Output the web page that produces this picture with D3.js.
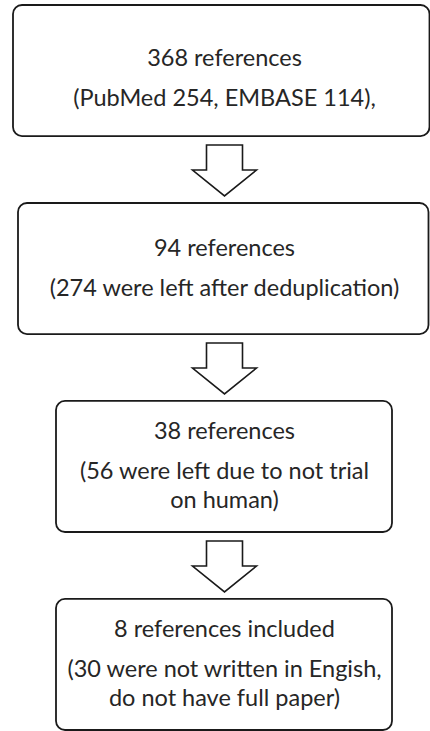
<!DOCTYPE html>
<html>
<head>
<meta charset="utf-8">
<script src="https://cdn.jsdelivr.net/npm/d3@7"></script>
<style>
  html, body { margin: 0; padding: 0; background: #fff; }
</style>
</head>
<body>
<div id="canvas"></div>
<script>
const steps = ["search", "dedup", "human", "included"];
const headlines = ["368 references", "94 references", "38 references", "8 references included"];
const details = [
  ["(PubMed 254, EMBASE 114),"],
  ["(274 were left after deduplication)"],
  ["(56 were left due to not trial", "on human)"],
  ["(30 were not written in Engish,", "do not have full paper)"]
];

const width = 430;
const height = 731;
const cx = 224.5;

// box extents per step (left, right)
const boxX = [[13, 429.5], [18, 428.5], [56, 392], [56, 392]];
const textShift = [8, 0, 0, 0];

const svg = d3.select("#canvas").append("svg")
  .attr("width", width)
  .attr("height", height);

const yScale = d3.scaleBand()
  .domain(steps)
  .range([5, 730])
  .paddingInner(0.338);

const fontSize = 23.5;
const lineGap = 40;
const wrapGap = 28.5;

const g = svg.selectAll("g.step")
  .data(steps)
  .enter()
  .append("g")
  .attr("class", "step");

g.append("rect")
  .attr("x", (d, i) => boxX[i][0])
  .attr("y", (d) => yScale(d))
  .attr("width", (d, i) => boxX[i][1] - boxX[i][0])
  .attr("height", yScale.bandwidth())
  .attr("rx", 9)
  .attr("fill", "#fff")
  .attr("stroke", "#1a1a1a")
  .attr("stroke-width", 1.8);

g.each(function (d, i) {
  const lines = [headlines[i]].concat(details[i]);
  const blockH = lineGap + wrapGap * (details[i].length - 1);
  const top = yScale(d) + yScale.bandwidth() / 2 - blockH / 2 + 7 + textShift[i];
  const sel = d3.select(this);
  lines.forEach((t, j) => {
    const yy = j === 0 ? top : top + lineGap + wrapGap * (j - 1);
    sel.append("text")
      .attr("x", cx)
      .attr("y", yy)
      .attr("text-anchor", "middle")
      .attr("font-family", "Lato, sans-serif")
      .attr("font-size", fontSize)
      .attr("fill", "#262626")
      .text(t);
  });
});

// block arrows between boxes
const arrowShaft = 18;
const arrowHead = 32;
const gaps = steps.slice(1).map((d, i) => ({
  top: yScale(steps[i]) + yScale.bandwidth() + 9,
  tip: yScale(d) - 7
}));

svg.selectAll("path.arrow")
  .data(gaps)
  .enter()
  .append("path")
  .attr("class", "arrow")
  .attr("d", (d) => {
    const p = d3.path();
    const shoulder = d.top + 25;
    p.moveTo(cx - arrowShaft, d.top);
    p.lineTo(cx + arrowShaft, d.top);
    p.lineTo(cx + arrowShaft, shoulder);
    p.lineTo(cx + arrowHead, shoulder);
    p.lineTo(cx, d.tip);
    p.lineTo(cx - arrowHead, shoulder);
    p.lineTo(cx - arrowShaft, shoulder);
    p.closePath();
    return p.toString();
  })
  .attr("fill", "#fff")
  .attr("stroke", "#1a1a1a")
  .attr("stroke-width", 1.6)
  .attr("stroke-linejoin", "miter");
</script>
</body>
</html>
